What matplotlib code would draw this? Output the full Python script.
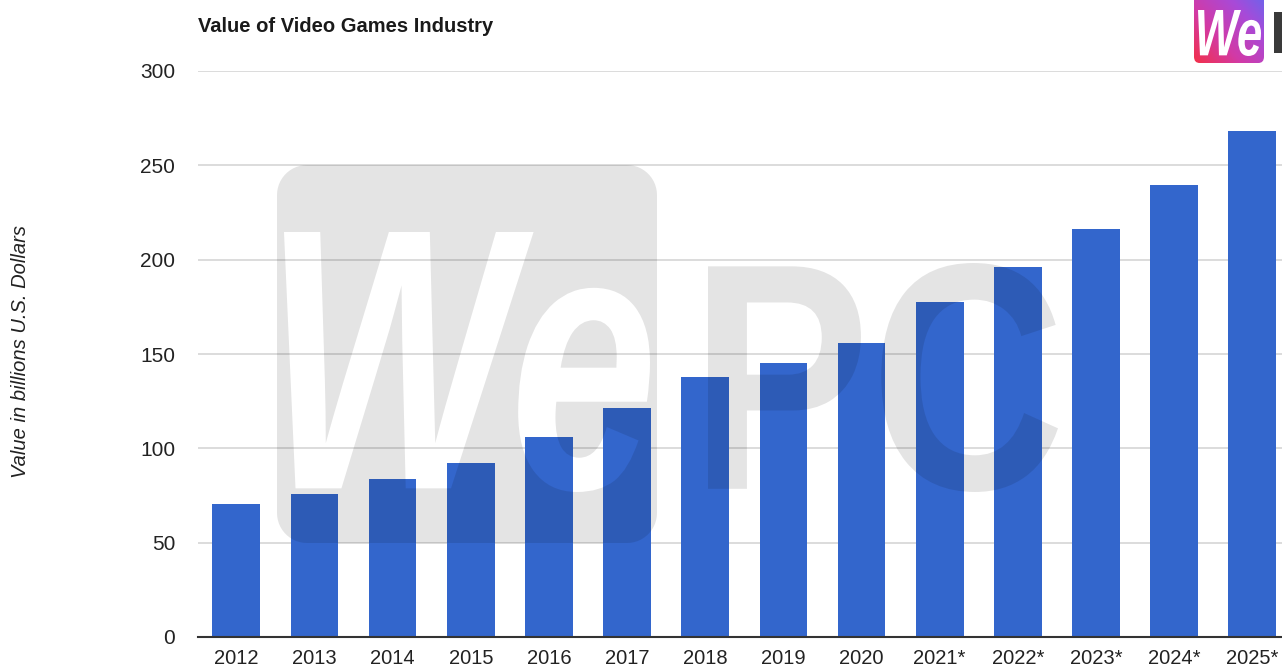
import numpy as np
import matplotlib
matplotlib.use("Agg")
import matplotlib.pyplot as plt
from matplotlib.textpath import TextPath
from matplotlib.font_manager import FontProperties
from matplotlib.path import Path
from matplotlib.patches import PathPatch, FancyBboxPatch, Rectangle
from matplotlib.transforms import Affine2D
from matplotlib.colors import LinearSegmentedColormap

# ---------------- data ----------------
years = ["2012", "2013", "2014", "2015", "2016", "2017", "2018", "2019",
         "2020", "2021*", "2022*", "2023*", "2024*", "2025*"]
values = [70.5, 76.0, 84.0, 92.3, 106.0, 121.3, 138.0, 145.3,
          156.0, 177.7, 196.0, 216.2, 239.5, 268.4]
yticks = [0, 50, 100, 150, 200, 250, 300]

title = "Value of Video Games Industry"
ylabel = "Value in billions U.S. Dollars"

plt.rcParams['font.family'] = ['Liberation Sans', 'DejaVu Sans']

W, H = 1282, 668
fig = plt.figure(figsize=(W / 100, H / 100), dpi=100)
px = Affine2D().scale(1.0 / W, 1.0 / H) + fig.transFigure

ax = fig.add_axes([198 / W, 31 / H, 1084 / W, 566 / H])
x = np.arange(len(years))
ax.bar(x, values, width=0.61, color="#3366CC", zorder=3)
ax.set_xlim(-0.49, 13.38)
ax.set_ylim(0, 300)
ax.set_yticks(yticks)
ax.set_xticks(x)
ax.set_xticklabels(years)
ax.grid(axis='y', color='#d6d6d6', lw=1.2, zorder=0)
ax.set_axisbelow(True)
for s in ['top', 'right', 'left']:
    ax.spines[s].set_visible(False)
ax.spines['bottom'].set_color('#333333')
ax.spines['bottom'].set_linewidth(1.5)
ax.spines['bottom'].set_zorder(5)
ax.tick_params(axis='y', length=0, labelsize=15, colors='#222222', pad=16.5)
ax.tick_params(axis='x', length=0, labelsize=14.5, colors='#222222', pad=8.5)

fig.text(198 / W, (H - 27) / H, title, fontsize=14.5, fontweight='bold',
         color='#1a1a1a', ha='left', va='center')
fig.text(21 / W, (H - 351) / H, ylabel, fontsize=14.5, style='italic',
         color='#222222', rotation=90, ha='center', va='center')

# ---------------- watermark ----------------
def fit_path(text, prop, x0, y0t, x1, y1t):
    tp = TextPath((0, 0), text, size=100, prop=prop)
    ext = tp.get_extents()
    sx = (x1 - x0) / ext.width
    sy = (y1t - y0t) / ext.height
    tr = Affine2D().translate(-ext.x0, -ext.y0).scale(sx, sy).translate(x0, H - y1t)
    return tr.transform_path(tp)

def signed_area(poly):
    xs, ys = poly[:, 0], poly[:, 1]
    return 0.5 * np.sum(xs * np.roll(ys, -1) - np.roll(xs, -1) * ys)

def rounded_rect(x0, y0, x1, y1, r, n=14):
    pts = []
    corners = [(x1 - r, y0 + r, -90, 0), (x1 - r, y1 - r, 0, 90),
               (x0 + r, y1 - r, 90, 180), (x0 + r, y0 + r, 180, 270)]
    for cx, cy, a0, a1 in corners:
        t = np.radians(np.linspace(a0, a1, n))
        pts.extend(zip(cx + r * np.cos(t), cy + r * np.sin(t)))
    return np.array(pts)

bi = FontProperties(family='Liberation Sans', weight='bold', style='italic')
bold = FontProperties(family='Liberation Sans', weight='bold')

we_path = fit_path("We", bi, 284, 232, 650, 492)
polys = we_path.to_polygons()
areas = [signed_area(p) for p in polys]
outer_sign = np.sign(areas[int(np.argmax(np.abs(areas)))])

rect = rounded_rect(277, H - 543, 657, H - 165, 30)
if np.sign(signed_area(rect)) == outer_sign:
    rect = rect[::-1]
rect_codes = [Path.MOVETO] + [Path.LINETO] * (len(rect) - 1) + [Path.CLOSEPOLY]
rect_path = Path(np.vstack([rect, rect[:1]]), rect_codes)
compound = Path.make_compound_path(rect_path, we_path)
ax.add_patch(PathPatch(compound, transform=px, facecolor='black', edgecolor='none',
                       alpha=0.105, zorder=4, clip_on=False))

pc_path = fit_path("PC", bold, 708, 263, 1058, 492)
ax.add_patch(PathPatch(pc_path, transform=px, facecolor='black', edgecolor='none',
                       alpha=0.105, zorder=4, clip_on=False))

# ---------------- logo (top right) ----------------
lax = fig.add_axes([1194 / W, (H - 63) / H, 70 / W, 80 / H])
lax.set_xlim(0, 1)
lax.set_ylim(0, 1)
lax.axis('off')
cmap = LinearSegmentedColormap.from_list('g', ['#f2304a', '#d23aa6', '#a84ad8', '#5a6cf2'])
u, v = np.meshgrid(np.linspace(0, 1, 100), np.linspace(0, 1, 100))
im = lax.imshow((u + v) / 2, cmap=cmap, extent=[0, 1, 0, 1], origin='lower', aspect='auto')
clip = FancyBboxPatch((0, 0), 1, 1, boxstyle='round,pad=0,rounding_size=0.08',
                      transform=lax.transAxes, facecolor='none', edgecolor='none')
lax.add_patch(clip)
im.set_clip_path(clip)

logo_we = fit_path("We", bi, 1198, 10, 1261, 56)
fig.add_artist(PathPatch(logo_we, transform=px, facecolor='white', edgecolor='none', zorder=10))
fig.add_artist(Rectangle((1274, H - 53), 20, 41, transform=px, facecolor='#3a3a3a',
                         edgecolor='none', zorder=10))

fig.savefig("out.png", dpi=100)
